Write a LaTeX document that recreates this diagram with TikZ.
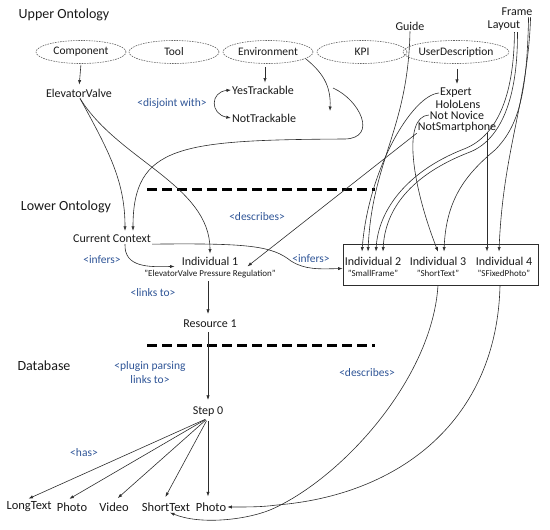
\documentclass[tikz,border=0pt]{standalone}
\usepackage{fontspec}
\setmainfont{Carlito}
\usetikzlibrary{shapes.geometric,arrows.meta,calc}
\definecolor{relblue}{RGB}{47,85,151}
\definecolor{ink}{RGB}{25,25,25}
\definecolor{wirec}{RGB}{45,45,45}
\tikzset{
  txt/.style={inner sep=1pt, text=ink, font=\fontsize{12}{13}\selectfont},
  sect/.style={inner sep=1pt, text=ink, font=\fontsize{14}{16}\selectfont},
  rel/.style={inner sep=1pt, text=relblue, font=\fontsize{11.5}{13}\selectfont},
  sub/.style={inner sep=1pt, text=ink, font=\fontsize{9}{10}\selectfont},
  bot/.style={inner sep=1pt, text=ink, font=\fontsize{12.5}{14}\selectfont},
  cls/.style={ellipse, draw=gray!80!black, dash pattern=on 1.6pt off 1pt, line width=0.6pt,
              minimum width=90pt, minimum height=23pt, inner sep=0pt, text=ink,
              font=\fontsize{11.5}{13}\selectfont},
  arr/.style={draw=wirec, line width=0.6pt, -{Latex[length=4.5pt,width=3.2pt]}},
  darr/.style={draw=wirec, line width=0.6pt, {Latex[length=4.5pt,width=3.2pt]}-{Latex[length=4.5pt,width=3.2pt]}},
  sepline/.style={line width=3pt, dash pattern=on 10pt off 5pt, black},
  grp/.style={draw=wirec, line width=0.8pt, minimum width=195pt, minimum height=41pt, inner sep=0pt}
}
\begin{document}
\begin{tikzpicture}[x=1pt,y=-1pt]
\useasboundingbox (0,0) rectangle (550,530);
% section labels
\node[sect] (upper) at (64,15) {Upper Ontology};
\node[sect] (lower) at (66,207) {Lower Ontology};
\node[sect] (db) at (44,366) {Database};
% separators
\coordinate (s1a) at (147,189); \coordinate (s1b) at (375,189);
\coordinate (s2a) at (147,345); \coordinate (s2b) at (375,345);
\draw[sepline] (s1a) -- (s1b);
\draw[sepline] (s2a) -- (s2b);
% classes
\node[cls] (comp) at (81,52) {Component};
\node[cls] (tool) at (174,52) {Tool};
\node[cls] (env) at (268,52) {Environment};
\node[cls] (kpi) at (362,52) {KPI};
\node[cls] (ud) at (456,52) {UserDescription};
% upper texts
\node[txt] (ev) at (79,93) {ElevatorValve};
\node[txt] (yes) at (263,90) {YesTrackable};
\node[txt] (not) at (264,118) {NotTrackable};
\node[rel] (disj) at (172,103) {<disjoint with>};
\node[txt] (guide) at (410,26) {Guide};
\node[txt] (layout) at (504,26) {Layout};
\node[txt] (frame) at (517,12) {Frame};
\node[txt] (expert) at (456,93) {Expert};
\node[txt] (holo) at (458,104) {HoloLens};
\node[txt] (novice) at (457,115) {Not Novice};
\node[txt] (nosmart) at (457,127) {NotSmartphone};
% lower ontology
\node[txt] (cc) at (112,239) {Current Context};
\node[rel] (inf1) at (102,260) {<infers>};
\node[txt] (ind1) at (210,261) {Individual 1};
\node[sub] (ind1s) at (210,274) {"ElevatorValve Pressure Regulation"};
\node[rel] (links) at (153,293) {<links to>};
\node[txt] (res) at (210,324) {Resource 1};
\node[rel] (desc1) at (257,217) {<describes>};
\node[rel] (inf2) at (311,259) {<infers>};
\node[grp] (box) at (440.5,264.5) {};
\node[txt] (ind2) at (373,261) {Individual 2};
\node[txt] (ind3) at (438,261) {Individual 3};
\node[txt] (ind4) at (504,261) {Individual 4};
\node[sub] (ind2s) at (373,273) {"SmallFrame"};
\node[sub] (ind3s) at (438,273) {"ShortText"};
\node[sub] (ind4s) at (504,273) {"SFixedPhoto"};
% database
\node[rel, align=center, font=\fontsize{11.5}{14}\selectfont] (plug) at (150,373) {<plugin parsing\\links to>};
\node[txt] (step) at (208,412) {Step 0};
\node[rel] (has) at (84,453) {<has>};
\node[rel] (desc2) at (367,373) {<describes>};
\node[bot] (lt) at (29,507) {LongText};
\node[bot] (ph1) at (72,507) {Photo};
\node[bot] (vid) at (114,507) {Video};
\node[bot] (st) at (166,507) {ShortText};
\node[bot] (ph2) at (211,507) {Photo};
% free ends
\coordinate (envEnd) at (330,111);
\coordinate (loopStart) at (333,88);
% upper connectors
\draw[arr, shorten >=3pt, shorten <=1pt] (comp.south) -- (ev.north);
\draw[arr, shorten >=2pt, shorten <=3pt] ([xshift=-3pt]env.south) -- ([xshift=2pt]yes.north);
\draw[arr, shorten >=3pt, shorten <=5pt] ([xshift=1pt]ud.south) -- ([xshift=1pt]expert.north);
\draw[darr] (yes.west) .. controls (210,92) and (210,114) .. (not.west);
\draw[arr] (env.-10) .. controls (322,72) and (331,85) .. (envEnd);
\draw[arr] (loopStart) .. controls (360,100) and (378,138) .. (345,139)
  .. controls (180,140) and (133,145) .. ([xshift=21pt,yshift=3pt]cc.north);
\draw[arr] ([xshift=1pt]ev.south) .. controls (108,150) and (125,180) .. ([xshift=13pt,yshift=3pt]cc.north);
\draw[arr] ([xshift=1pt]ev.south) .. controls (118,160) and (210,185) .. ([yshift=2pt]ind1.north);
% lower connectors
\draw[arr] ([xshift=13pt]cc.south) .. controls (124,268) and (150,267) .. ([xshift=-6pt]ind1.south west);
\draw[arr] (cc.south east) .. controls (250,243) and (272,246) .. (291,261)
  .. controls (305,270) and (320,269) .. ([yshift=-4pt]box.west);
\draw[arr, shorten >=5pt, shorten <=2pt] ([xshift=-2pt]ind1s.south) -- ([xshift=-2pt]res.north);
\draw[arr, shorten >=6pt, shorten <=3pt] ([xshift=-2pt]res.south) -- (step.north);
\draw[arr] (guide.south) .. controls (408,130) and (372,160) .. ([xshift=-5pt,yshift=4pt]ind2.north);
\draw[arr] (expert.west) .. controls (412,95) and (368,170) .. ([xshift=-11pt,yshift=4pt]ind2.north);
\draw[arr] (novice.west) .. controls (402,117) and (412,185) .. ([yshift=4pt]ind3.north);
\draw[arr] (nosmart.south west) -- ([xshift=8pt]ind1.south east);
\draw[arr] ([xshift=30pt]nosmart.south) -- ([xshift=-17pt,yshift=4pt]ind4.north);
\draw[arr] ([xshift=-4pt]layout.south east) .. controls (518,100) and (500,140) .. (470,152)
  .. controls (410,175) and (385,210) .. ([xshift=10pt,yshift=4pt]ind2.north);
\draw[arr] ([xshift=-7pt]layout.south east) .. controls (514,100) and (495,137) .. (464,149)
  .. controls (405,172) and (378,212) .. ([xshift=3pt,yshift=4pt]ind2.north);
\draw[arr] ([xshift=-3pt]frame.south east) .. controls (528,100) and (503,150) .. ([xshift=-5pt,yshift=4pt]ind4.north);
\draw[arr] ([xshift=-5pt]frame.south east) .. controls (527,90) and (520,125) .. (495,150)
  .. controls (465,175) and (446,200) .. ([xshift=6pt,yshift=4pt]ind3.north);
% database connectors
\draw[arr, shorten >=5pt, shorten <=3pt] (step.south) -- ([xshift=-5pt]lt.north);
\draw[arr, shorten >=5pt, shorten <=3pt] (step.south) -- ([xshift=-7pt]ph1.north);
\draw[arr, shorten >=5pt, shorten <=3pt] (step.south) -- (vid.north);
\draw[arr, shorten >=5pt, shorten <=3pt] (step.south) -- ([xshift=-3pt]st.north);
\draw[arr, shorten >=5pt, shorten <=3pt] (step.south) -- ([xshift=-3pt]ph2.north);
\draw[arr] (box.south -| ind3s.south) .. controls (432,380) and (340,480) .. (270,510)
  .. controls (245,520) and (200,525) .. ([xshift=4pt]st.south);
\draw[arr] ($(box.south -| ind4s.south)+(-4,0)$) .. controls (497,420) and (400,495) .. (277,505)
  .. controls (262,507) and (250,507) .. (ph2.east);
\end{tikzpicture}
\end{document}
